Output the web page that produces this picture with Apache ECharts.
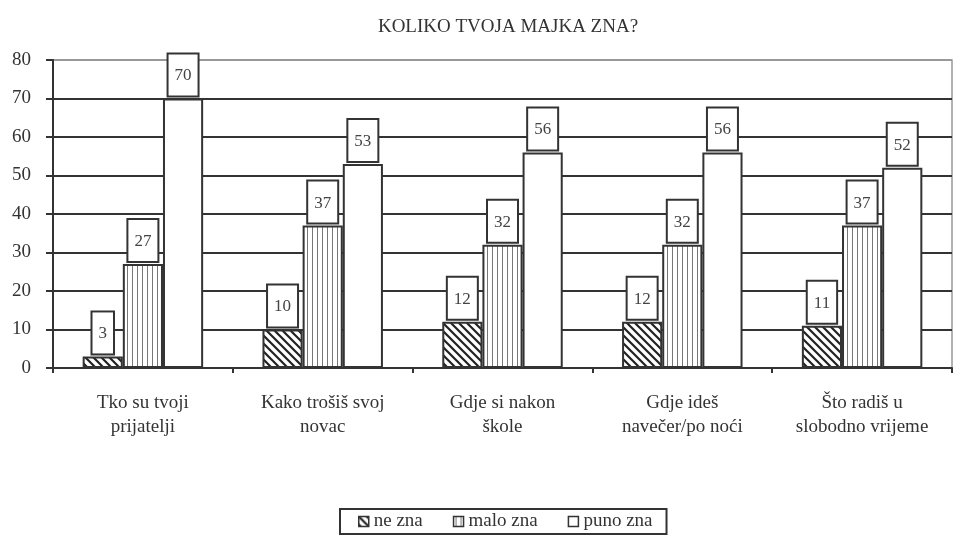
<!DOCTYPE html>
<html>
<head>
<meta charset="utf-8">
<script src="https://cdn.jsdelivr.net/npm/echarts@6/dist/echarts.min.js"></script>
<style>
html, body { margin: 0; padding: 0; background: #fff; }
#main { width: 954px; height: 537px; }
</style>
</head>
<body>
<div id="main"></div>
<script type="text/javascript">
    var categories = ['Tko su tvoji\nprijatelji', 'Kako trošiš svoj\nnovac', 'Gdje si nakon\nškole', 'Gdje ideš\nnavečer/po noći', 'Što radiš u\nslobodno vrijeme'];
    var neZna = [3, 10, 12, 12, 11];
    var maloZna = [27, 37, 32, 32, 37];
    var punoZna = [70, 53, 56, 56, 52];

    var font = '"Liberation Serif", "DejaVu Serif", serif';
    var ink = '#333';

    // šrafura za "ne zna"
    function hatch() {
        var c = document.createElement('canvas');
        c.width = 8; c.height = 8;
        var ctx = c.getContext('2d');
        ctx.fillStyle = '#fff';
        ctx.fillRect(0, 0, 8, 8);
        ctx.strokeStyle = '#222';
        ctx.lineWidth = 2.2;
        ctx.beginPath();
        ctx.moveTo(-2, -2); ctx.lineTo(10, 10);
        ctx.moveTo(-2, 6); ctx.lineTo(2, 10);
        ctx.moveTo(6, -2); ctx.lineTo(10, 2);
        ctx.stroke();
        return c;
    }

    // okomite crte za "malo zna"
    function stripes() {
        var c = document.createElement('canvas');
        c.width = 5; c.height = 4;
        var ctx = c.getContext('2d');
        ctx.fillStyle = '#fff';
        ctx.fillRect(0, 0, 5, 4);
        ctx.strokeStyle = '#777';
        ctx.lineWidth = 1;
        ctx.beginPath();
        ctx.moveTo(2.5, 0); ctx.lineTo(2.5, 4);
        ctx.stroke();
        return c;
    }

    var labelBox = {
        show: true,
        position: 'top',
        distance: 3,
        color: '#444',
        fontFamily: font,
        fontSize: 17,
        backgroundColor: '#fff',
        borderColor: ink,
        borderWidth: 2,
        padding: [13, 6, 11, 6]
    };

    var myChart = echarts.init(document.getElementById('main'));
    var option = {
        animation: false,
        backgroundColor: '#fff',
        title: {
            text: 'KOLIKO TVOJA MAJKA ZNA?',
            left: 503,
            textAlign: 'center',
            top: 13,
            textStyle: { fontFamily: font, fontSize: 19, fontWeight: 'normal', color: '#333' }
        },
        legend: {
            bottom: 3,
            left: 340,
            icon: 'rect',
            itemWidth: 10,
            itemHeight: 10,
            itemGap: 30,
            padding: [3, 14, 3, 18],
            borderColor: ink,
            borderWidth: 2,
            itemStyle: { borderWidth: 1.5 },
            textStyle: { fontFamily: font, fontSize: 19, color: '#333' },
            data: ['ne zna', 'malo zna', 'puno zna']
        },
        grid: {
            left: 53,
            right: 2,
            top: 60,
            bottom: 169,
            show: true,
            borderColor: '#999',
            borderWidth: 1.5
        },
        xAxis: {
            type: 'category',
            data: categories,
            axisLine: { lineStyle: { color: ink, width: 2 } },
            axisTick: { show: true, length: 5, lineStyle: { color: ink, width: 2 } },
            axisLabel: { margin: 23, fontFamily: font, fontSize: 19, lineHeight: 24, color: '#333' }
        },
        yAxis: {
            type: 'value',
            min: 0,
            max: 80,
            interval: 10,
            axisLine: { show: true, lineStyle: { color: ink, width: 2 } },
            axisTick: { show: true, length: 7, lineStyle: { color: ink, width: 2 } },
            axisLabel: { margin: 22, fontFamily: font, fontSize: 19, color: '#333' },
            splitLine: { lineStyle: { color: [ink, ink, ink, ink, ink, ink, ink, ink, '#999'], width: 2 } }
        },
        series: [
            {
                name: 'ne zna', type: 'bar', data: neZna,
                barGap: '0%', barCategoryGap: '33%',
                itemStyle: { color: { image: hatch(), repeat: 'repeat' }, borderColor: ink, borderWidth: 2 },
                label: labelBox
            },
            {
                name: 'malo zna', type: 'bar', data: maloZna,
                barGap: '0%', barCategoryGap: '33%',
                itemStyle: { color: { image: stripes(), repeat: 'repeat' }, borderColor: ink, borderWidth: 2 },
                label: labelBox
            },
            {
                name: 'puno zna', type: 'bar', data: punoZna,
                barGap: '0%', barCategoryGap: '33%',
                itemStyle: { color: '#fff', borderColor: ink, borderWidth: 2 },
                label: labelBox
            }
        ]
    };
    myChart.setOption(option);
</script>
</body>
</html>
